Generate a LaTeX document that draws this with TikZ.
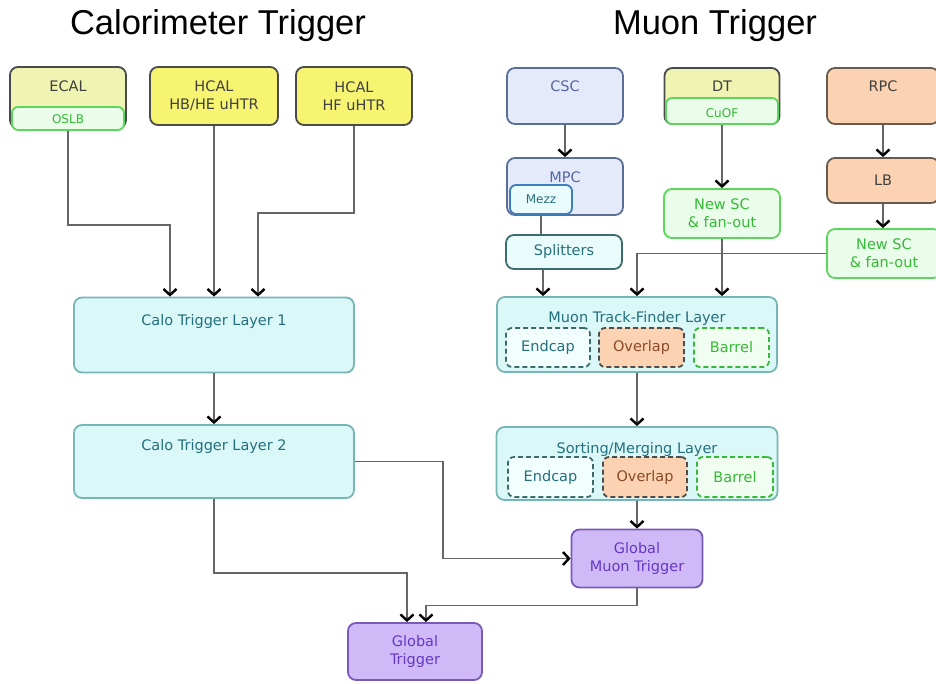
\documentclass[tikz,border=0pt]{standalone}
\usepackage{fontspec}
\setmainfont{Liberation Sans}
\newfontfamily\boxfont{DejaVu Sans}
\usetikzlibrary{arrows.meta,positioning}

\definecolor{edgegray}{HTML}{4A4A4A}
\definecolor{linegray}{HTML}{666666}
\definecolor{paleyellow}{HTML}{F0F4B2}
\definecolor{brightyellow}{HTML}{F6F470}
\definecolor{greenfill}{HTML}{EAFCEA}
\definecolor{greenedge}{HTML}{5CD65C}
\definecolor{greentext}{HTML}{36B936}
\definecolor{blufill}{HTML}{E5EAFB}
\definecolor{bluedge}{HTML}{5A6F96}
\definecolor{blutext}{HTML}{5567A3}
\definecolor{orangefill}{HTML}{FBD3B2}
\definecolor{orangedge}{HTML}{6A5A4C}
\definecolor{cyanfill}{HTML}{DAF8F8}
\definecolor{cyanedge}{HTML}{78B6B6}
\definecolor{tealtext}{HTML}{256F7E}
\definecolor{tealedge}{HTML}{3C6C6C}
\definecolor{lightcyan}{HTML}{EAFBFB}
\definecolor{mezzedge}{HTML}{3C7EBE}
\definecolor{purplefill}{HTML}{CFBAF7}
\definecolor{purpledge}{HTML}{7A5AB8}
\definecolor{purpletext}{HTML}{6538C4}
\definecolor{browntext}{HTML}{8A4A2A}

\begin{document}
\begin{tikzpicture}[x=1pt,y=-1pt,
    nodes={font=\boxfont\fontsize{14.5}{18}\selectfont, align=center, inner sep=0pt},
    box/.style={draw, rounded corners=8pt, line width=1.8pt},
    sz/.style 2 args={minimum width=#1pt, minimum height=#2pt},
    small/.style={font=\boxfont\fontsize{12}{14}\selectfont},
    title/.style={font=\fontsize{34.5}{40}\selectfont, anchor=base},
    calo/.style={box, draw=edgegray, fill=paleyellow},
    hcal/.style={box, draw=edgegray, fill=brightyellow, text=black!75},
    newsc/.style={box, draw=greenedge, fill=greenfill, text=greentext},
    csc/.style={box, draw=bluedge, fill=blufill, text=blutext},
    rpc/.style={box, draw=orangedge, fill=orangefill, text=black!75},
    layer/.style={box, draw=cyanedge, fill=cyanfill},
    glob/.style={box, draw=purpledge, fill=purplefill, text=purpletext},
    part/.style={draw, rounded corners=6pt, line width=1.8pt, dash pattern=on 5pt off 3pt},
    endcap/.style={part, draw=tealedge, fill=lightcyan!60, text=tealtext},
    overlap/.style={part, draw=black!70, fill=orangefill, text=browntext},
    barrel/.style={part, draw=greentext, fill=greenfill!70, text=greentext},
    conn/.style={draw=linegray, line width=1.6pt,
      -{Straight Barb[length=6pt,width=13pt,line width=2.4pt,color=black]}},
    plain/.style={draw=linegray, line width=1.6pt}
  ]
  \useasboundingbox (0,0) rectangle (936,684);

  % headings
  \node[title] (calohead) at (218,35) {Calorimeter Trigger};
  \node[title] (muonhead) at (715,35) {Muon Trigger};

  % calorimeter inputs
  \node[calo, sz={116}{61}] (ecal) at (68,97.5) {};
  \node (ecaltxt) [anchor=base, text=black!75] at (68,92) {ECAL};
  \node[box, draw=greenedge, fill=greenfill, sz={112}{23}, rounded corners=6pt] (oslb) at (68,118.5) {};
  \node[small, anchor=base, text=greentext] (oslbtxt) at (68,123.5) {OSLB};
  \node[hcal, sz={128}{58}] (hbhe) at (214,96) {HCAL\\HB/HE uHTR};
  \node[hcal, sz={116}{58}] (hf) at (354,96) {HCAL\\HF uHTR};

  % calorimeter layers
  \node[layer, sz={280}{75}] (cl1) at (214,335) {};
  \node[anchor=base, text=tealtext] (cl1txt) at (214,325) {Calo Trigger Layer 1};
  \node[layer, sz={280}{73}] (cl2) at (214,461.5) {};
  \node[anchor=base, text=tealtext] (cl2txt) at (214,450) {Calo Trigger Layer 2};

  % muon inputs
  \node[csc, sz={116}{56}] (csc) at (565,96) {};
  \node[anchor=base, text=blutext] (csctxt) at (565,92) {CSC};
  \node[calo, sz={115}{56}] (dt) at (722,96) {};
  \node[anchor=base, text=black!75] (dttxt) at (722,92) {DT};
  \node[box, draw=greenedge, fill=greenfill, sz={112}{26}, rounded corners=6pt] (cuof) at (722,111) {};
  \node[small, anchor=base, text=greentext] (cuoftxt) at (722,117.5) {CuOF};
  \node[rpc, sz={112}{56}] (rpc) at (883,96) {};
  \node[anchor=base, text=black!75] (rpctxt) at (883,92) {RPC};

  \node[csc, sz={116}{57}] (mpc) at (565,186.5) {};
  \node[anchor=base, text=blutext] (mpctxt) at (565,183) {MPC};
  \node[box, draw=mezzedge, fill=lightcyan, sz={62}{29}, rounded corners=6pt] (mezz) at (541,199.5) {};
  \node[small, anchor=base, text=tealtext] (mezztxt) at (541,204) {Mezz};
  \node[rpc, sz={112}{45}] (lb) at (883,180.5) {LB};

  \node[newsc, sz={116}{49}] (nsca) at (722,213.5) {New SC\\\& fan-out};
  \node[newsc, sz={114}{49}] (nscb) at (884,253.5) {New SC\\\& fan-out};
  \node[box, draw=tealedge, fill=lightcyan, text=tealtext, sz={116}{34}] (split) at (564,252) {Splitters};

  % muon track finder
  \node[layer, sz={280}{75}] (mtf) at (637,334.5) {};
  \node[anchor=base, text=tealtext] (mtftxt) at (637,322) {Muon Track-Finder Layer};
  \node[endcap, sz={84}{39}] (mtfend) at (548,347.5) {Endcap};
  \node[overlap, sz={85}{39}] (mtfover) at (641.5,347.5) {Overlap};
  \node[barrel, sz={75}{39}] (mtfbar) at (731.5,347.5) {Barrel};

  % sorting / merging
  \node[layer, sz={281}{73}] (sm) at (637,463.5) {};
  \node[anchor=base, text=tealtext] (smtxt) at (637,453) {Sorting/Merging Layer};
  \node[endcap, sz={85}{40}] (smend) at (550.5,477) {Endcap};
  \node[overlap, sz={84}{40}] (smover) at (645,477) {Overlap};
  \node[barrel, sz={76}{40}] (smbar) at (735,477) {Barrel};

  % global
  \node[glob, sz={131}{58}] (gmt) at (637,558.5) {Global\\Muon Trigger};
  \node[glob, sz={134}{57}] (gt) at (415,651.5) {Global\\Trigger};

  % calorimeter connections
  \draw[conn] (oslb.south) -- ++(0,94) -| ([xshift=-44pt]cl1.north);
  \draw[conn] (hbhe.south) -- (hbhe.south |- cl1.north);
  \draw[conn] (hf.south) -- ++(0,87) -| ([xshift=44pt]cl1.north);
  \draw[conn] (cl1.south) -- (cl2.north);
  \draw[conn] (cl2.east) -- ++(88,0) |- (gmt.west);
  \draw[conn] (cl2.south) -- ++(0,74) -| ([xshift=-8pt]gt.north);
  \draw[conn] (gmt.south) -- ++(0,17) -| ([xshift=11pt]gt.north);

  % muon connections
  \draw[conn] (csc.south) -- (mpc.north);
  \draw[conn] (cuof.south) -- (nsca.north);
  \draw[conn] (rpc.south) -- (lb.north);
  \draw[conn] (lb.south) -- (lb.south |- nscb.north);
  \draw[plain] (mezz.south) -- (mezz.south |- split.north);
  \draw[conn] ([xshift=-21pt]split.south) -- ([xshift=-21pt]split.south |- mtf.north);
  \draw[conn] (nscb.west) -| (mtf.north);
  \draw[conn] (nsca.south) -- (nsca.south |- mtf.north);
  \draw[conn] (mtf.south) -- (sm.north);
  \draw[conn] (sm.south) -- (gmt.north);
\end{tikzpicture}
\end{document}
